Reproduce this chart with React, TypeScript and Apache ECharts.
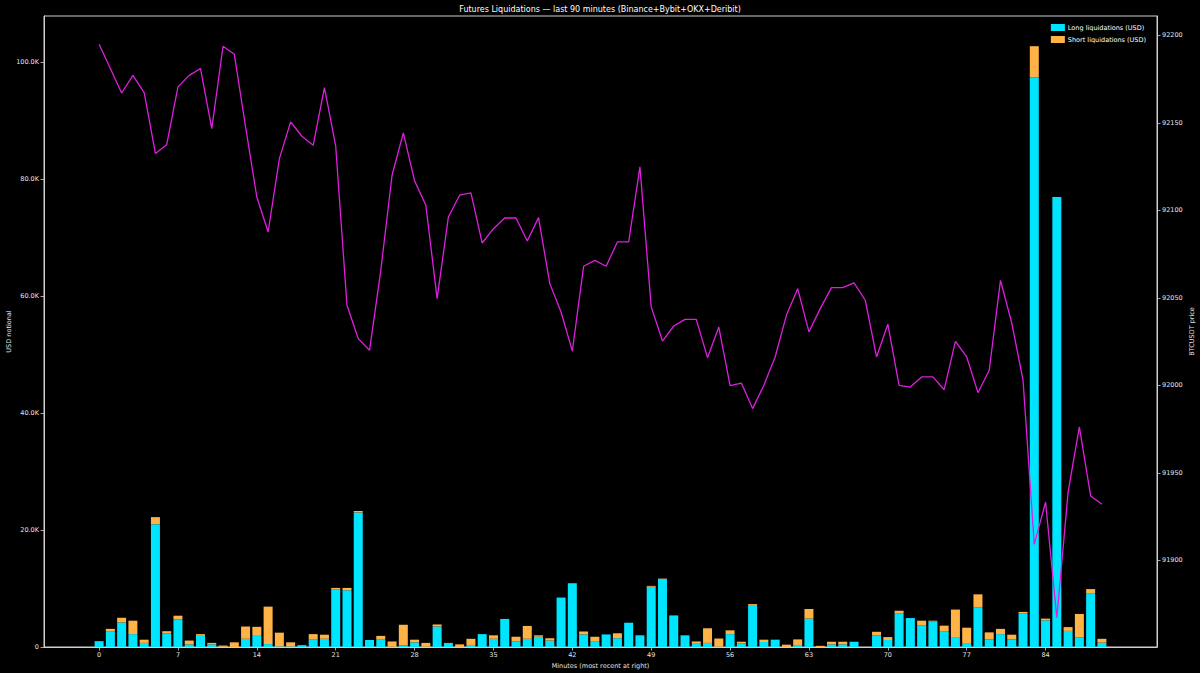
import React, { useEffect, useRef } from "react";
import * as echarts from "echarts";

const minutes: number[] = Array.from({ length: 90 }, (_, i) => i);

// Long liquidations, thousands of USD
const longK: number[] = [
  1.0, 2.7, 4.2, 2.2, 0.7, 21.0, 2.3, 4.7, 0.45, 2.05,
  0.45, 0.05, 0, 1.4, 2.05, 0.5, 0.1, 0.1, 0.3, 1.25,
  1.4, 9.8, 9.7, 23.0, 1.2, 1.25, 0.05, 0.25, 0.8, 0.05,
  3.5, 0.55, 0, 0.35, 2.2, 1.4, 4.8, 1.0, 1.4, 1.75,
  1.1, 8.4, 10.9, 2.15, 0.9, 2.15, 1.5, 4.15, 2.0, 10.3,
  11.65, 5.4, 2.0, 0.55, 0.7, 0.05, 2.2, 0.65, 7.2, 0.85,
  1.2, 0, 0.35, 4.85, 0, 0.45, 0.45, 0.9, 0, 2.0,
  1.2, 5.7, 4.95, 3.65, 4.4, 2.7, 1.7, 0.55, 6.8, 1.3,
  2.2, 1.3, 5.7, 97.4, 4.55, 76.9, 2.75, 1.65, 9.2, 0.75,
];

// Short liquidations, thousands of USD
const shortK: number[] = [
  0, 0.4, 0.8, 2.3, 0.55, 1.2, 0.4, 0.65, 0.65, 0.15,
  0.25, 0.2, 0.8, 2.1, 1.4, 6.4, 2.35, 0.7, 0.05, 0.95,
  0.7, 0.3, 0.4, 0.25, 0, 0.65, 0.9, 3.55, 0.45, 0.65,
  0.35, 0.15, 0.45, 1.05, 0, 0.6, 0, 0.75, 2.2, 0.25,
  0.4, 0.05, 0, 0.5, 0.85, 0, 0.85, 0, 0, 0.15,
  0.05, 0, 0, 0.4, 2.5, 1.4, 0.65, 0.25, 0.15, 0.4,
  0.05, 0.4, 0.95, 1.65, 0.2, 0.45, 0.45, 0, 0, 0.6,
  0.5, 0.5, 0, 0.85, 0.1, 0.95, 4.7, 2.75, 2.2, 1.2,
  0.9, 0.8, 0.3, 5.3, 0.3, 0, 0.65, 4.0, 0.7, 0.65,
];

// BTCUSDT price
const price: number[] = [
  92194.9, 92181.0, 92167.0, 92177.1, 92167.2, 92132.4, 92137.5, 92170.5, 92177.1, 92181.0,
  92146.7, 92193.7, 92189.1, 92147.6, 92107.6, 92087.6, 92129.5, 92150.5, 92142.3, 92137.1,
  92170.1, 92136.6, 92045.7, 92026.7, 92020.0, 92065.7, 92120.0, 92144.2, 92116.8, 92102.9,
  92049.5, 92096.2, 92108.6, 92109.9, 92081.3, 92089.5, 92095.6, 92095.6, 92082.5, 92095.8,
  92058.1, 92041.9, 92019.5, 92068.0, 92071.4, 92068.0, 92081.9, 92081.9, 92124.8, 92044.8,
  92025.3, 92033.9, 92037.7, 92037.7, 92015.8, 92033.3, 91999.8, 92001.3, 91986.7, 92000.0,
  92016.2, 92040.0, 92055.2, 92030.5, 92043.8, 92055.8, 92055.8, 92058.5, 92048.6, 92016.2,
  92034.9, 92000.0, 91999.0, 92004.8, 92004.8, 91997.5, 92025.1, 92016.2, 91995.8, 92008.6,
  92060.0, 92035.6, 92002.9, 91909.1, 91933.3, 91867.2, 91939.0, 91976.2, 91936.8, 91932.0,
];

const xTicks: number[] = [0, 7, 14, 21, 28, 35, 42, 49, 56, 63, 70, 77, 84];
const usdTicks: number[] = [0, 20000, 40000, 60000, 80000, 100000];
const priceTicks: number[] = [91900, 91950, 92000, 92050, 92100, 92150, 92200];

const FONT = "DejaVu Sans";
const AXIS_COLOR = "#cfcfcf";
const LABEL_COLOR = "#e6e6e6";

export default function App() {
  const ref = useRef<HTMLDivElement>(null);

  useEffect(() => {
    if (!ref.current) return;
    const chart = echarts.init(ref.current, undefined, { renderer: "svg" });

    const axisLine = { show: true, onZero: false, lineStyle: { color: AXIS_COLOR, width: 1 } };
    const axisTick = { show: true, length: 3.5, lineStyle: { color: AXIS_COLOR, width: 0.8 } };
    const labelStyle = { color: LABEL_COLOR, fontSize: 6.5, fontFamily: FONT };

    chart.setOption({
      animation: false,
      backgroundColor: "#000000",
      textStyle: { fontFamily: FONT },
      title: {
        text: "Futures Liquidations — last 90 minutes (Binance+Bybit+OKX+Deribit)",
        left: "center",
        top: 0,
        textStyle: { color: "#ffffff", fontSize: 8, fontWeight: "normal", fontFamily: FONT },
      },
      legend: {
        orient: "vertical",
        right: 49,
        top: 19,
        itemWidth: 14,
        itemHeight: 7,
        itemGap: 5,
        icon: "rect",
        textStyle: { color: "#ffffff", fontSize: 6.5, fontFamily: FONT, padding: [0, 0, 0, -2] },
        data: ["Long liquidations (USD)", "Short liquidations (USD)"],
      },
      grid: {
        left: 44,
        right: 43,
        top: 16,
        bottom: 26,
        outerBoundsMode: "none",
        containLabel: false,
        show: true,
        borderColor: AXIS_COLOR,
        borderWidth: 1,
        backgroundColor: "transparent",
      },
      xAxis: {
        type: "value",
        min: -4.89,
        max: 93.89,
        name: "Minutes (most recent at right)",
        nameLocation: "middle",
        nameGap: 13,
        nameTextStyle: { color: LABEL_COLOR, fontSize: 6.5, fontFamily: FONT },
        axisLine,
        axisTick: { ...axisTick, customValues: xTicks },
        axisLabel: { ...labelStyle, margin: 4, customValues: xTicks },
        splitLine: { show: false },
      },
      yAxis: [
        {
          type: "value",
          min: 0,
          max: 107860,
          position: "left",
          name: "USD notional",
          nameLocation: "middle",
          nameRotate: 90,
          nameGap: 32,
          nameMoveOverlap: false,
          nameTextStyle: { color: LABEL_COLOR, fontSize: 6.5, fontFamily: FONT },
          axisLine,
          axisTick: { ...axisTick, customValues: usdTicks },
          axisLabel: {
            ...labelStyle,
            margin: 5,
            customValues: usdTicks,
            formatter: (v: number) => (v === 0 ? "0" : (v / 1000).toFixed(1) + "K"),
          },
          splitLine: { show: false },
        },
        {
          type: "value",
          min: 91850.5,
          max: 92211,
          position: "right",
          name: "BTCUSDT price",
          nameLocation: "middle",
          nameRotate: 90,
          nameGap: 31,
          nameMoveOverlap: false,
          nameTextStyle: { color: LABEL_COLOR, fontSize: 6.5, fontFamily: FONT },
          axisLine,
          axisTick: { ...axisTick, customValues: priceTicks },
          axisLabel: { ...labelStyle, margin: 5, customValues: priceTicks, formatter: (v: number) => String(v) },
          splitLine: { show: false },
        },
      ],
      series: [
        {
          name: "Long liquidations (USD)",
          type: "bar",
          stack: "liq",
          yAxisIndex: 0,
          barWidth: 9,
          itemStyle: { color: "#00e5ff" },
          encode: { x: 1, y: 0 },
          data: minutes.map((m, i) => [longK[i] * 1000, m]),
          z: 2,
        },
        {
          name: "Short liquidations (USD)",
          type: "bar",
          stack: "liq",
          yAxisIndex: 0,
          barWidth: 9,
          itemStyle: { color: "#ffb347" },
          encode: { x: 1, y: 0 },
          data: minutes.map((m, i) => [shortK[i] * 1000, m]),
          z: 2,
        },
        {
          name: "BTCUSDT",
          type: "line",
          yAxisIndex: 1,
          showSymbol: false,
          symbol: "none",
          lineStyle: { color: "#e01ee0", width: 1.3 },
          data: minutes.map((m, i) => [m, price[i]]),
          z: 5,
        },
      ],
    });

    return () => chart.dispose();
  }, []);

  return <div ref={ref} style={{ width: 1200, height: 673, position: "fixed", left: 0, top: 0 }} />;
}
